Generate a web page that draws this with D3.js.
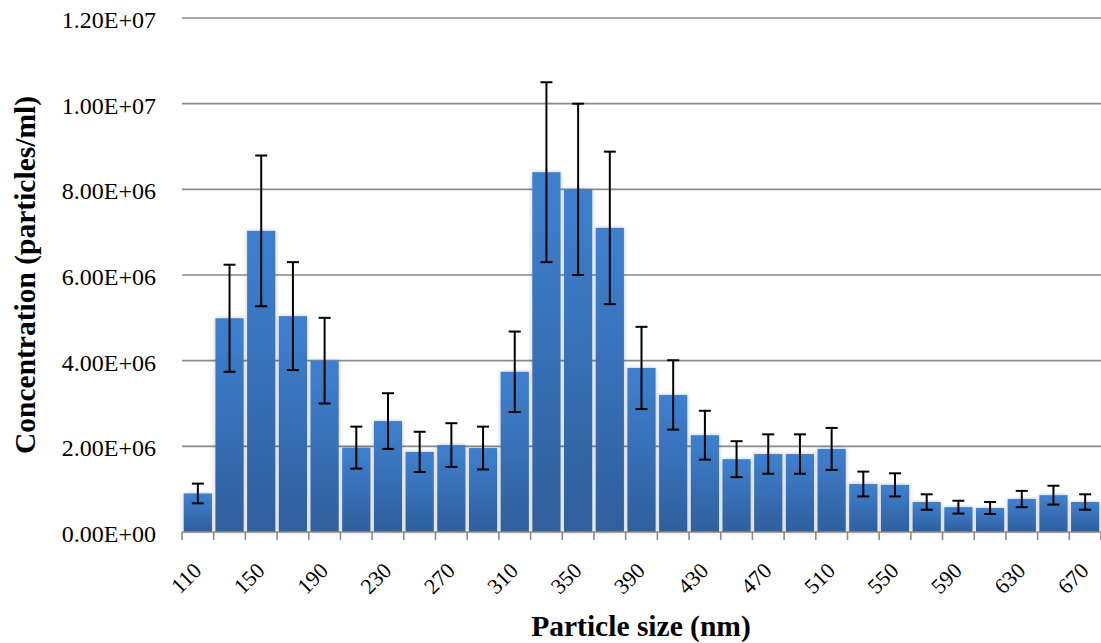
<!DOCTYPE html>
<html>
<head>
<meta charset="utf-8">
<script src="https://cdn.jsdelivr.net/npm/d3@7"></script>
<style>
  body { margin: 0; background: #fff; }
  svg { display: block; }
  text { font-family: "Liberation Serif", "DejaVu Serif", serif; fill: #000; }
</style>
</head>
<body>
<svg id="chart" width="1101" height="643"></svg>
<script>
const sizes = [110,130,150,170,190,210,230,250,270,290,310,330,350,370,390,410,430,450,470,490,510,530,550,570,590,610,630,650,670];
const concentration = [0.90e6,4.99e6,7.03e6,5.04e6,4.00e6,1.97e6,2.59e6,1.87e6,2.03e6,1.96e6,3.74e6,8.40e6,8.00e6,7.10e6,3.83e6,3.20e6,2.26e6,1.70e6,1.82e6,1.82e6,1.94e6,1.12e6,1.10e6,0.70e6,0.58e6,0.56e6,0.77e6,0.86e6,0.70e6];
const errors = [0.23e6,1.25e6,1.76e6,1.26e6,1.00e6,0.49e6,0.65e6,0.47e6,0.51e6,0.50e6,0.94e6,2.10e6,2.00e6,1.78e6,0.96e6,0.81e6,0.57e6,0.42e6,0.46e6,0.46e6,0.49e6,0.29e6,0.27e6,0.18e6,0.15e6,0.14e6,0.19e6,0.22e6,0.18e6];
const yTicks = [0,2e6,4e6,6e6,8e6,10e6,12e6];
const yTickLabels = ["0.00E+00","2.00E+06","4.00E+06","6.00E+06","8.00E+06","1.00E+07","1.20E+07"];
const xTickLabels = [110,150,190,230,270,310,350,390,430,470,510,550,590,630,670];

const svg = d3.select("#chart");
const mLeft = 182, mRight = 1101, mTop = 18, mBottom = 532;

const x = d3.scaleBand().domain(sizes).range([mLeft, mRight]).paddingInner(0.11).paddingOuter(0.055);
const y = d3.scaleLinear().domain([0, 12e6]).range([mBottom, mTop]);

const defs = svg.append("defs");
const grad = defs.append("linearGradient").attr("id","barGrad").attr("x1",0).attr("y1",0).attr("x2",0).attr("y2",1);
grad.append("stop").attr("offset","0%").attr("stop-color","#3e80cf");
grad.append("stop").attr("offset","100%").attr("stop-color","#305f9d");
const filt = defs.append("filter").attr("id","shadow").attr("x","-20%").attr("y","-5%").attr("width","140%").attr("height","110%");
filt.append("feDropShadow").attr("dx",0).attr("dy",0).attr("stdDeviation",2).attr("flood-color","#000").attr("flood-opacity",0.25);

// gridlines
svg.append("g").selectAll("line").data(yTicks.slice(1)).join("line")
  .attr("x1", mLeft).attr("x2", mRight)
  .attr("y1", d => y(d)).attr("y2", d => y(d))
  .attr("stroke", "#8a8a8a").attr("stroke-width", 1.6);

// bars
svg.append("g").selectAll("rect").data(sizes).join("rect")
  .attr("x", d => x(d))
  .attr("width", x.bandwidth())
  .attr("y", (d,i) => y(concentration[i]))
  .attr("height", (d,i) => y(0) - y(concentration[i]))
  .attr("fill", "url(#barGrad)")
  .attr("filter", "url(#shadow)");

// x axis line and ticks (at band boundaries)
const step = x.step();
const boundaries = sizes.map(d => x(d) - (step - x.bandwidth())/2).concat([mRight]);
svg.append("line").attr("x1", mLeft).attr("x2", mRight).attr("y1", mBottom).attr("y2", mBottom)
  .attr("stroke", "#8a8a8a").attr("stroke-width", 1.6);
svg.append("g").selectAll("line").data(boundaries).join("line")
  .attr("x1", d => d).attr("x2", d => d).attr("y1", mBottom).attr("y2", mBottom + 8)
  .attr("stroke", "#8a8a8a").attr("stroke-width", 1.6);

// error bars
const eg = svg.append("g").attr("stroke", "#000").attr("stroke-width", 2);
sizes.forEach((d,i) => {
  const cx = x(d) + x.bandwidth()/2;
  const hi = y(concentration[i] + errors[i]);
  const lo = y(concentration[i] - errors[i]);
  eg.append("line").attr("x1", cx).attr("x2", cx).attr("y1", hi).attr("y2", lo);
  eg.append("line").attr("x1", cx-6).attr("x2", cx+6).attr("y1", hi).attr("y2", hi);
  eg.append("line").attr("x1", cx-6).attr("x2", cx+6).attr("y1", lo).attr("y2", lo);
});

// y tick labels
svg.append("g").selectAll("text").data(yTicks).join("text")
  .attr("x", 156).attr("y", d => y(d) + 10)
  .attr("text-anchor", "end").attr("font-size", 24)
  .text((d,i) => yTickLabels[i]);

// x tick labels
svg.append("g").selectAll("text").data(xTickLabels).join("text")
  .attr("transform", d => `translate(${x(d) + x.bandwidth()/2 - 6},${561}) rotate(-45)`)
  .attr("text-anchor", "end").attr("dy", "0.7em").attr("font-size", 22)
  .text(d => d);

// axis titles
svg.append("text").attr("x", 641).attr("y", 636).attr("text-anchor", "middle")
  .attr("font-size", 29.5).attr("font-weight", "bold").text("Particle size (nm)");
svg.append("text").attr("transform", "translate(35,275) rotate(-90)").attr("text-anchor", "middle")
  .attr("font-size", 29.5).attr("font-weight", "bold").text("Concentration (particles/ml)");
</script>
</body>
</html>
